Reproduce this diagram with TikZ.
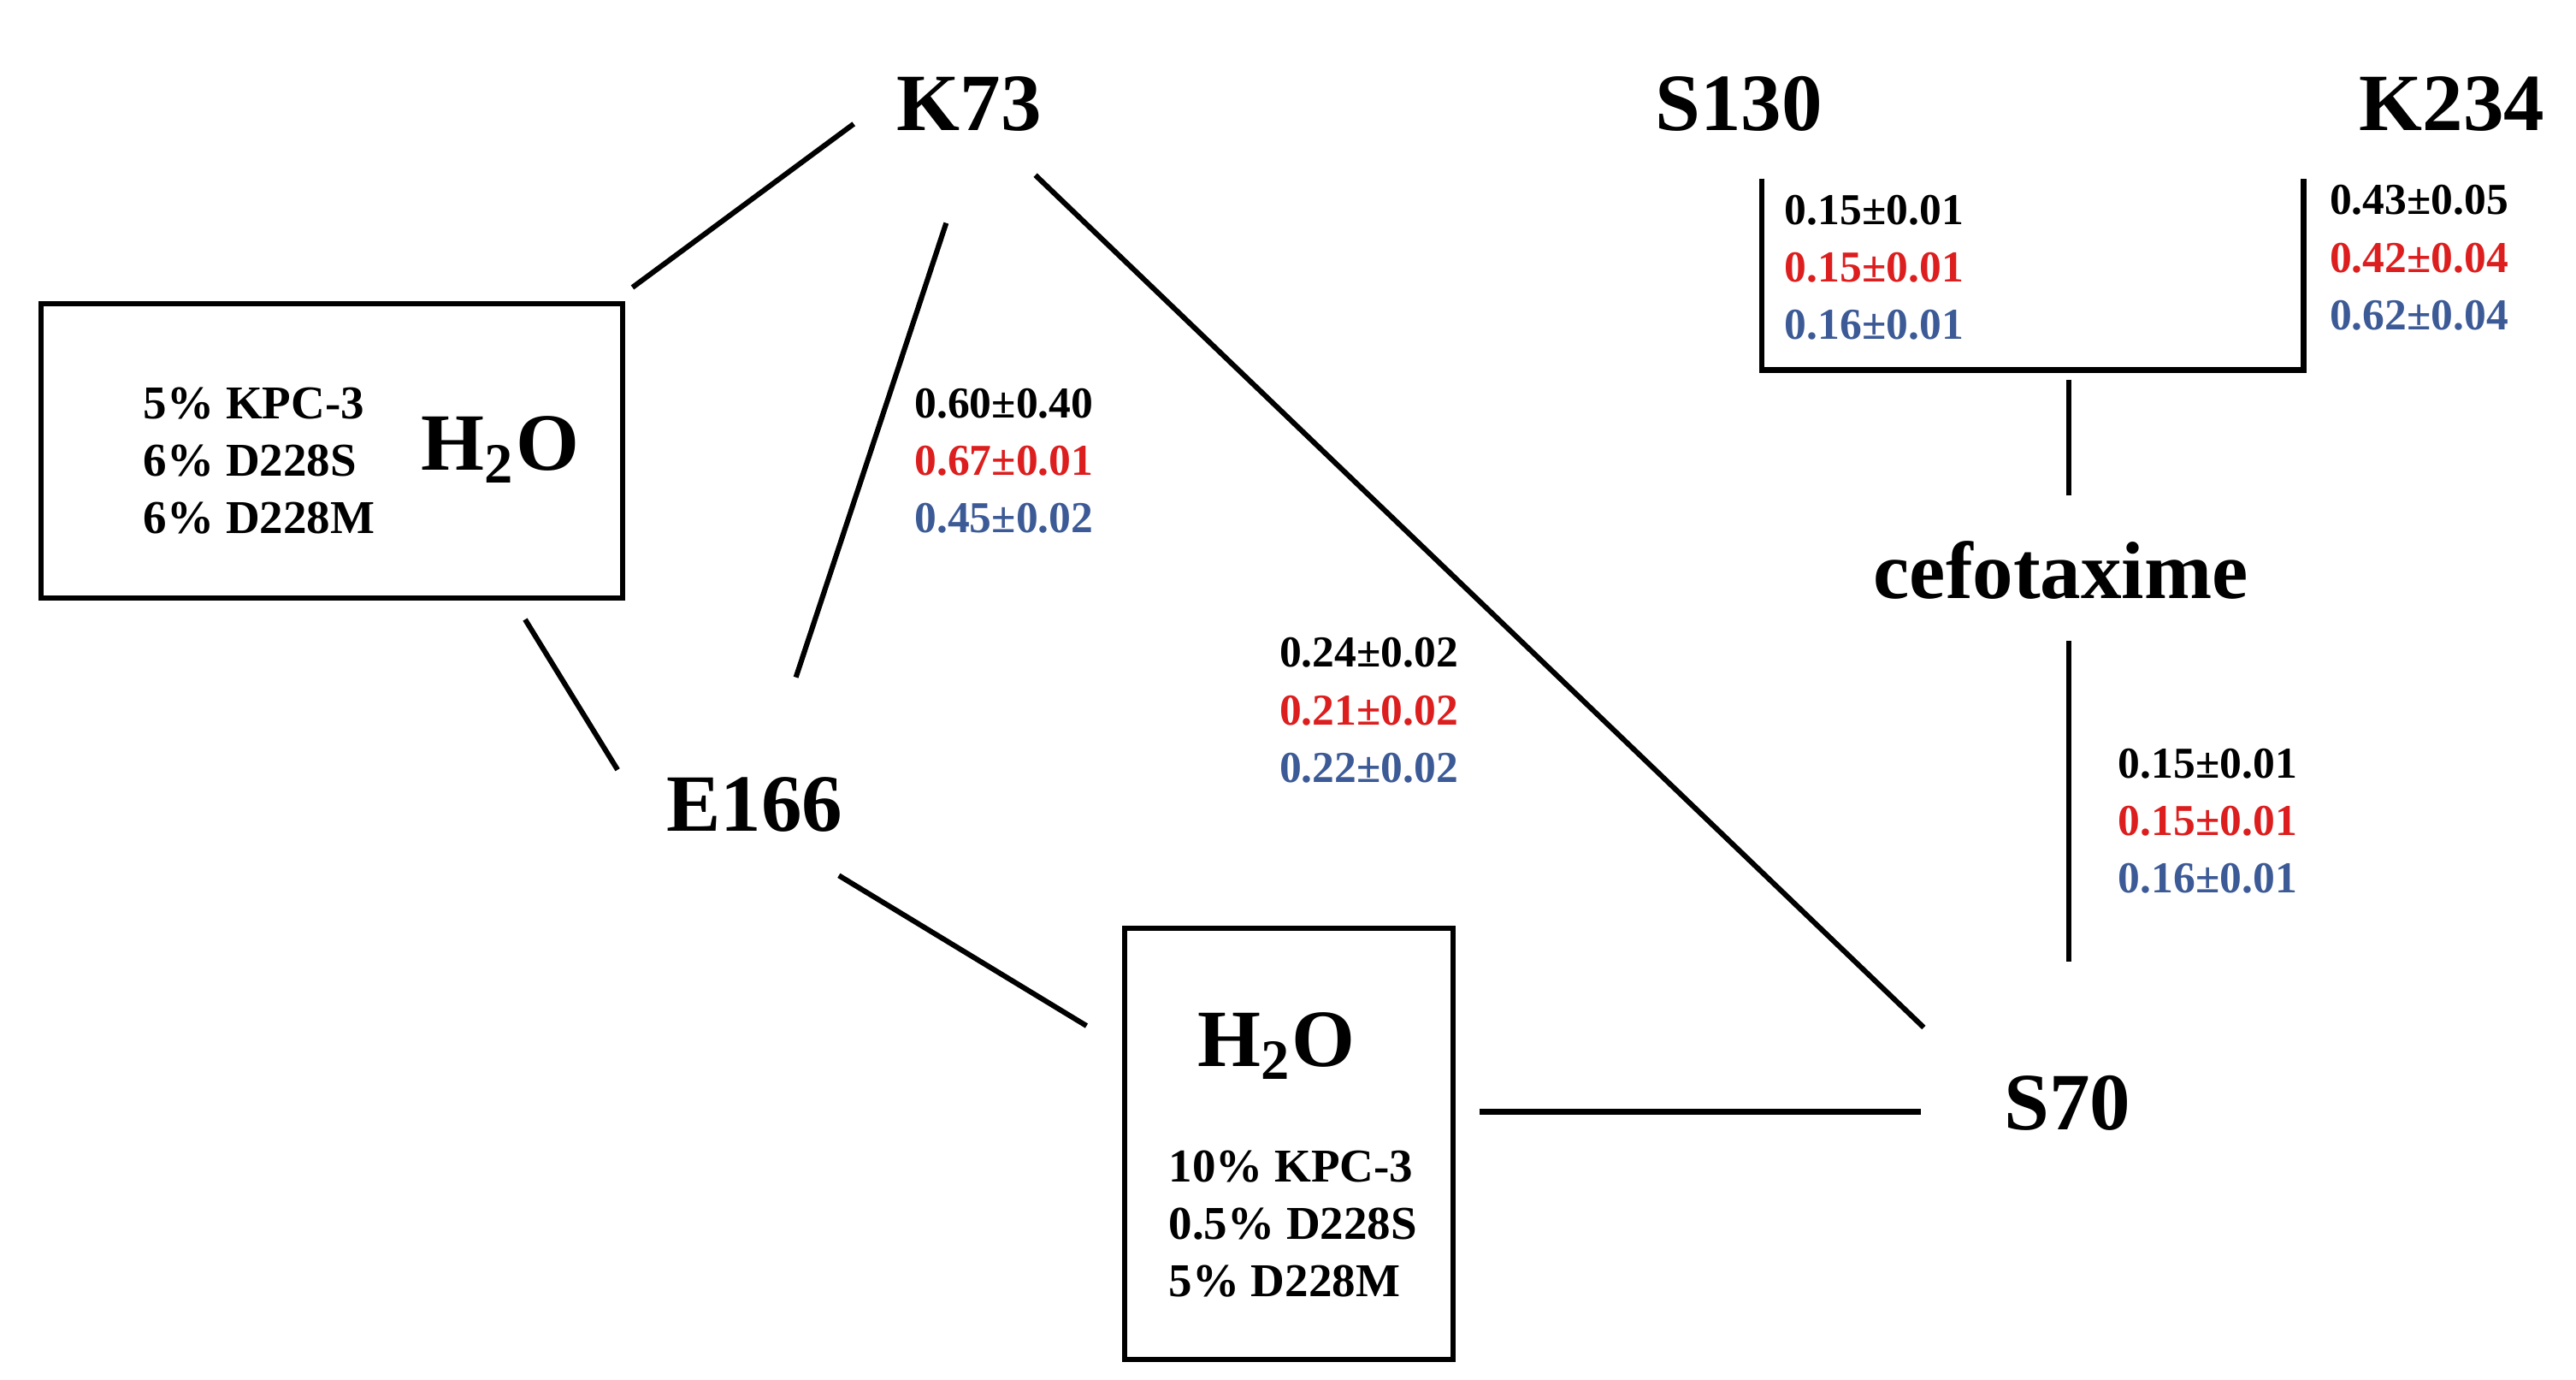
\documentclass[tikz,border=0pt]{standalone}
\usepackage{fontspec}
\setmainfont{Liberation Serif}
\definecolor{vred}{RGB}{220,30,30}
\definecolor{vblue}{RGB}{60,90,150}
\begin{document}
\begin{tikzpicture}[x=0.01cm,y=-0.01cm,
  big/.style={font=\bfseries\fontsize{14}{16}\selectfont},
  med/.style={font=\bfseries\fontsize{14}{16}\selectfont},
  num/.style={font=\bfseries\fontsize{7.6}{9.9}\selectfont,align=left},
  pct/.style={font=\bfseries\fontsize{8.1}{9.9}\selectfont,align=left},
  ln/.style={line width=0.9pt}]
\useasboundingbox (0,0) rectangle (1560,835);
\node[big] (k73) at (587,63) {K73};
\node[big] (s130) at (1053,63) {S130};
\node[big] (k234) at (1485,63) {K234};
\node[med] (cef) at (1248,345) {cefotaxime};
\node[big] (e166) at (457,487) {E166};
\node[big] (s70) at (1252,668) {S70};
\draw[ln] (25,184) rectangle (377,362);
\node[big] (h1) at (303,272) {H\textsubscript{2}O};
\node[pct] (p1) at (157,279) {5\% KPC-3\\6\% D228S\\6\% D228M};
\draw[ln] (681,562) rectangle (880,823);
\node[big] (h2) at (773,633) {H\textsubscript{2}O};
\node[pct] (p2) at (783,741) {10\% KPC-3\\0.5\% D228S\\5\% D228M};
\coordinate (a1) at (383,174); \coordinate (a2) at (517,75);
\coordinate (b1) at (573,135); \coordinate (b2) at (482,410);
\coordinate (c1) at (627,106); \coordinate (c2) at (1165,622);
\coordinate (d1) at (318,375); \coordinate (d2) at (374,466);
\coordinate (e1) at (508,530); \coordinate (e2) at (658,621);
\coordinate (f1) at (896,673); \coordinate (f2) at (1163,673);
\coordinate (g1) at (1253,388); \coordinate (g2) at (1253,582);
\coordinate (h1a) at (1253,230); \coordinate (h2a) at (1253,300);
\coordinate (i1) at (1067,108); \coordinate (i2) at (1067,224);
\coordinate (i3) at (1395,224); \coordinate (i4) at (1395,108);
\draw[ln] (a1)--(a2); \draw[ln] (b1)--(b2); \draw[ln] (c1)--(c2);
\draw[ln] (d1)--(d2); \draw[ln] (e1)--(e2); \draw[ln] (f1)--(f2);
\draw[ln] (g1)--(g2); \draw[ln] (h1a)--(h2a);
\draw[ln] (i1)--(i2)--(i3)--(i4);
\node[num] (n1) at (608,279) {0.60±0.40\\\textcolor{vred}{0.67±0.01}\\\textcolor{vblue}{0.45±0.02}};
\node[num] (n2) at (829,430) {0.24±0.02\\\textcolor{vred}{0.21±0.02}\\\textcolor{vblue}{0.22±0.02}};
\node[num] (n3) at (1135,162) {0.15±0.01\\\textcolor{vred}{0.15±0.01}\\\textcolor{vblue}{0.16±0.01}};
\node[num] (n4) at (1465,156) {0.43±0.05\\\textcolor{vred}{0.42±0.04}\\\textcolor{vblue}{0.62±0.04}};
\node[num] (n5) at (1337,497) {0.15±0.01\\\textcolor{vred}{0.15±0.01}\\\textcolor{vblue}{0.16±0.01}};
\end{tikzpicture}
\end{document}
